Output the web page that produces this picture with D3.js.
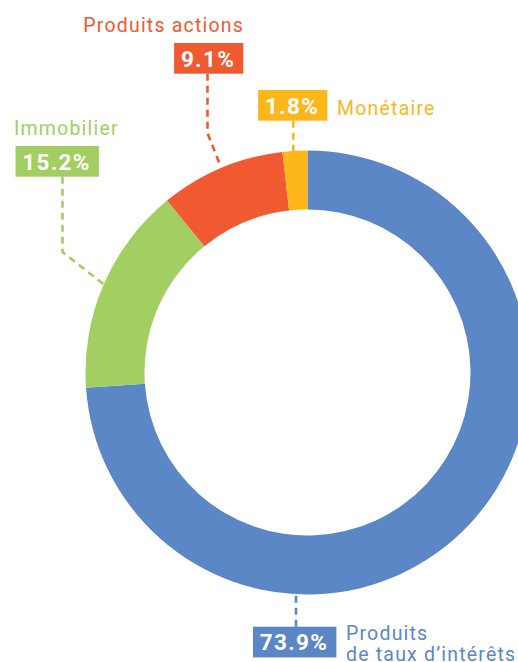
<!DOCTYPE html>
<html><head><meta charset="utf-8">
<script src="https://cdn.jsdelivr.net/npm/d3@7"></script>
<style>
html,body{margin:0;padding:0;background:#fff;overflow:hidden;}
svg{display:block;}
text{font-family:Roboto,"DejaVu Sans",sans-serif;}
</style></head>
<body>
<svg id="chart" width="518" height="662"></svg>
<script>
// ---- data ----
const categories = ["Produits de taux d’intérêts", "Immobilier", "Produits actions", "Monétaire"];
const values = [73.9, 15.2, 9.1, 1.8];
const valueLabels = ["73.9%", "15.2%", "9.1%", "1.8%"];
const nameLines = [["Produits", "de taux d’intérêts"], ["Immobilier"], ["Produits actions"], ["Monétaire"]];
const colors = ["#5B87C6", "#A3CE62", "#F15A30", "#FDB71A"];

// ---- layout ----
const W = 518, H = 662;
const cx = 307.5, cy = 372.5, rOuter = 222, rInner = 163;
const svg = d3.select("#chart");
const g = svg.append("g").attr("transform", `translate(${cx},${cy})`);

const pie = d3.pie().sort(null).value(d => d).startAngle(0).endAngle(2 * Math.PI);
const arcs = pie(values);
const arc = d3.arc().innerRadius(rInner).outerRadius(rOuter);

g.selectAll("path.slice").data(arcs).enter().append("path")
  .attr("class", "slice")
  .attr("d", arc)
  .attr("fill", (d, i) => colors[i]);

// label placement (page coords); leader ends at slice mid-angle on the outer edge when useMid
const place = [
  { boxCx: 294, boxTop: 626.7, lineX: 296, elbowY: null, useMid: false, endY: 594, name: { x: 346, y: 640, anchor: "start", dy: 21 } },
  { boxCx: 56.5, boxTop: 146, lineX: 62.5, elbowY: 252, useMid: true, rEnd: 222, name: { x: 14, y: 134.5, anchor: "start" } },
  { boxCx: 208, boxTop: 43, lineX: 207.5, elbowY: 133, useMid: true, rEnd: 225, name: { x: 244, y: 32, anchor: "end" } },
  { boxCx: 292, boxTop: 90, lineX: 293.3, elbowY: null, useMid: false, endY: 151, name: { x: 337, y: 114.5, anchor: "start" } }
];
const boxH = 30.7;

const lab = svg.append("g");
arcs.forEach((a, i) => {
  const p = place[i];
  // leader line
  const pts = [[p.lineX, p.boxTop < cy ? p.boxTop + boxH : p.boxTop]];
  if (p.useMid) {
    const mid = (a.startAngle + a.endAngle) / 2;
    if (p.elbowY !== null) pts.push([p.lineX, p.elbowY]);
    pts.push([cx + p.rEnd * Math.sin(mid), cy - p.rEnd * Math.cos(mid)]);
  } else {
    pts.push([p.lineX, p.endY]);
  }
  lab.append("path")
    .attr("d", d3.line()(pts))
    .attr("fill", "none")
    .attr("stroke", colors[i])
    .attr("stroke-width", 2.6)
    .attr("stroke-dasharray", "7,5");

  // value box
  const t = lab.append("text")
    .attr("x", p.boxCx)
    .attr("y", p.boxTop + 23.6)
    .attr("text-anchor", "middle")
    .attr("fill", "#fff")
    .attr("font-size", 22.5)
    .attr("font-weight", "bold")
    .attr("letter-spacing", 1.3)
    .text(valueLabels[i]);
  const bb = t.node().getBBox();
  const w = bb.width + 15;
  lab.insert("rect", "text")
    .attr("x", p.boxCx - w / 2 + 0.7)
    .attr("y", p.boxTop)
    .attr("width", w)
    .attr("height", boxH)
    .attr("fill", colors[i]);

  // category name
  const nt = lab.append("text")
    .attr("x", p.name.x)
    .attr("y", p.name.y)
    .attr("text-anchor", p.name.anchor)
    .attr("fill", colors[i])
    .attr("font-size", 19.5)
    .attr("letter-spacing", 1.2);
  nameLines[i].forEach((ln, k) => {
    nt.append("tspan").attr("x", p.name.x).attr("dy", k === 0 ? 0 : p.name.dy).text(ln);
  });
});
</script>
</body></html>
